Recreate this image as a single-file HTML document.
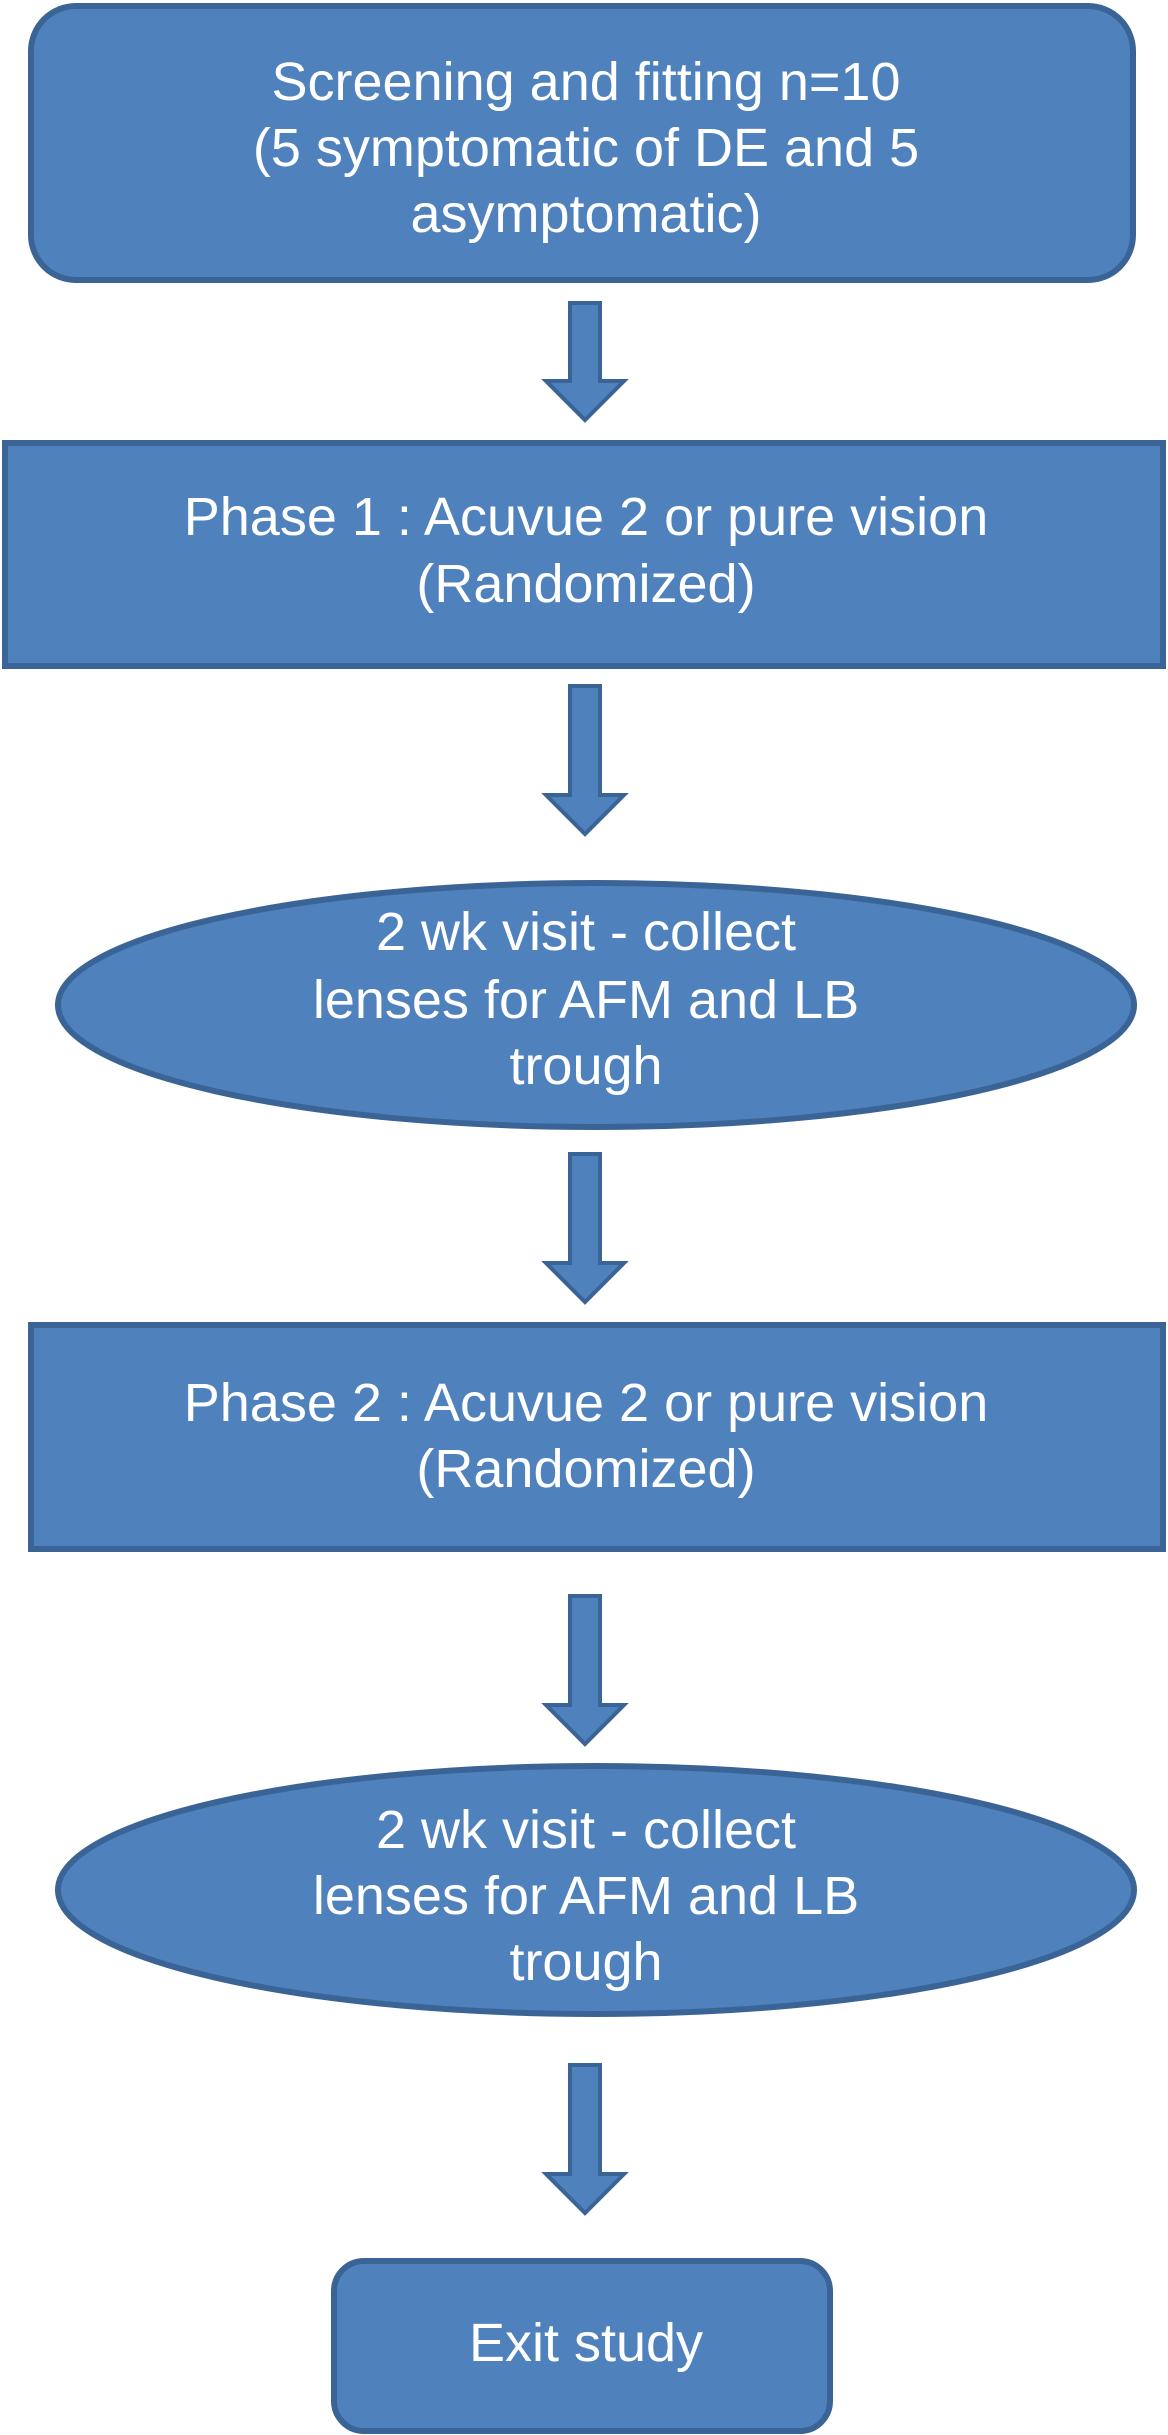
<!DOCTYPE html>
<html><head><meta charset="utf-8"><style>
html,body{margin:0;padding:0;background:#fff;}
svg{display:block}
text{font-family:"Liberation Sans",Arial,sans-serif;fill:#fff;font-size:54px;text-anchor:middle;dominant-baseline:central}
</style></head><body>
<svg width="1168" height="2435" viewBox="0 0 1168 2435" xmlns="http://www.w3.org/2000/svg">
<defs>
<g id="arr"><path d="M-15 0 H15 V78 H39 L0 117 L-39 78 H-15 Z" fill="#4f81bd" stroke="#3b6496" stroke-width="4"/></g>
<g id="arrL"><path d="M-15 0 H15 V109 H39 L0 148 L-39 109 H-15 Z" fill="#4f81bd" stroke="#3b6496" stroke-width="4"/></g>
</defs>
<g fill="#4f81bd" stroke="#3b6496" stroke-width="6">
<rect x="31" y="6" width="1102" height="274" rx="45"/>
<rect x="5" y="443" width="1158" height="223"/>
<ellipse cx="596" cy="1005" rx="538" ry="122"/>
<rect x="31" y="1325" width="1132" height="224"/>
<ellipse cx="596" cy="1890" rx="538" ry="124"/>
<rect x="334" y="2261" width="496" height="170" rx="30"/>
</g>
<use href="#arr" x="585" y="303"/>
<use href="#arrL" x="585" y="686"/>
<use href="#arrL" x="585" y="1154"/>
<use href="#arrL" x="585" y="1596"/>
<use href="#arrL" x="585" y="2065"/>
<text x="586" y="82">Screening and fitting n=10</text>
<text x="586" y="148">(5 symptomatic of DE and 5</text>
<text x="586" y="214">asymptomatic)</text>
<text x="586" y="517">Phase 1 : Acuvue 2 or pure vision</text>
<text x="586" y="584">(Randomized)</text>
<text x="586" y="932">2 wk visit - collect</text>
<text x="586" y="1000">lenses for AFM and LB</text>
<text x="586" y="1066">trough</text>
<text x="586" y="1403">Phase 2 : Acuvue 2 or pure vision</text>
<text x="586" y="1469">(Randomized)</text>
<text x="586" y="1830">2 wk visit - collect</text>
<text x="586" y="1896">lenses for AFM and LB</text>
<text x="586" y="1962">trough</text>
<text x="586" y="2343">Exit study</text>
</svg>
</body></html>
